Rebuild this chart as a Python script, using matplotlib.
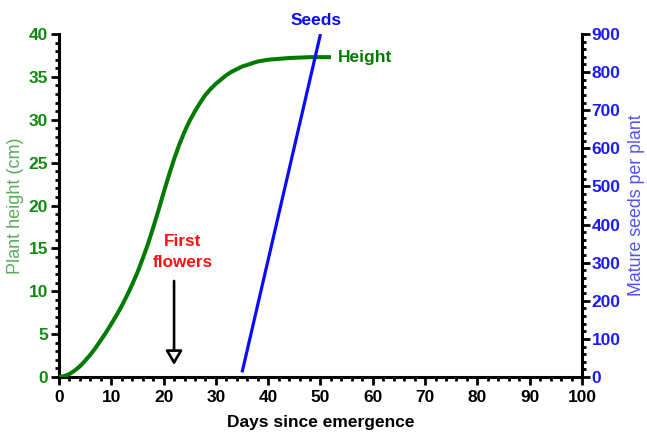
import matplotlib
matplotlib.use("Agg")
import matplotlib.pyplot as plt
from matplotlib.ticker import MultipleLocator

plt.rcParams['font.family'] = ['Liberation Sans', 'DejaVu Sans']

# Data
height_days = [0, 1, 2, 3, 4, 5, 6, 7, 8, 9, 10, 11, 12, 13, 14, 15, 16, 17, 18, 19, 20,
               21, 22, 23, 24, 25, 26, 27, 28, 29, 30, 31, 32, 33, 34, 35, 36, 37, 38, 39, 40,
               42, 44, 46, 48, 50, 52]
height_cm = [0, 0.1, 0.35, 0.75, 1.25, 1.9, 2.6, 3.4, 4.3, 5.2, 6.2, 7.2, 8.3, 9.5, 10.8, 12.2,
             13.8, 15.5, 17.4, 19.4, 21.5, 23.5, 25.4, 27.1, 28.6, 29.9, 31.0, 32.0, 32.9, 33.6,
             34.2, 34.7, 35.2, 35.6, 35.9, 36.2, 36.4, 36.6, 36.8, 36.9, 37.0, 37.1, 37.2, 37.25,
             37.3, 37.3, 37.3]
seed_days = [35, 50]
seeds = [12, 900]
first_flower_day = 22

x_ticks = list(range(0, 101, 10))
left_ticks = list(range(0, 41, 5))
right_ticks = list(range(0, 901, 100))

GREEN = '#007a00'
GREEN_TXT = '#0f8a0f'
GREEN_LBL = '#5cac5c'
BLUE = '#0a0aff'
BLUE_TXT = '#1a1aff'
BLUE_LBL = '#5050ff'

fig = plt.figure(figsize=(6.47, 4.32), dpi=100)
ax = fig.add_axes([0.0912, 0.1273, 0.8083, 0.794])
ax2 = ax.twinx()

ax.plot(height_days, height_cm, color=GREEN, lw=2.9, solid_capstyle='butt',
        solid_joinstyle='round', zorder=3)
ax2.plot(seed_days, seeds, color=BLUE, lw=2.3, solid_capstyle='butt', zorder=3)

ax.set_xlim(0, 100)
ax.set_ylim(0, 40)
ax2.set_ylim(0, 900)

ax.set_xticks(x_ticks)
ax.set_yticks(left_ticks)
ax2.set_yticks(right_ticks)
ax.xaxis.set_minor_locator(MultipleLocator(2))
ax.yaxis.set_minor_locator(MultipleLocator(1))
ax2.yaxis.set_minor_locator(MultipleLocator(20))

for a in (ax, ax2):
    for s in a.spines.values():
        s.set_linewidth(2.2)
    a.spines['top'].set_visible(False)
ax.spines['right'].set_visible(False)
ax2.spines['left'].set_visible(False)
ax2.spines['bottom'].set_visible(False)

ax.tick_params(axis='both', which='major', direction='out', length=6, width=2, pad=2)
ax.tick_params(axis='x', which='major', pad=3.5)
ax.tick_params(axis='both', which='minor', direction='out', length=3, width=2)
ax2.tick_params(axis='y', which='major', direction='out', length=6, width=2, pad=1)
ax2.tick_params(axis='y', which='minor', direction='out', length=3, width=2)

TICK_FS = 12.5
ax.set_xticklabels([str(v) for v in x_ticks], fontsize=TICK_FS, fontweight='bold', color='black')
ax.set_yticklabels([str(v) for v in left_ticks], fontsize=TICK_FS, fontweight='bold', color=GREEN_TXT)
ax2.set_yticklabels([str(v) for v in right_ticks], fontsize=TICK_FS, fontweight='bold', color=BLUE_TXT)

ax.set_xlabel('Days since emergence', fontsize=12.5, fontweight='bold', labelpad=7)
ax.set_ylabel('Plant height (cm)', fontsize=13, color=GREEN_LBL, labelpad=3)
ax2.set_ylabel('Mature seeds per plant', fontsize=12.8, color=BLUE_LBL, labelpad=5.5)

ax.text(53.3, 37.3, 'Height', color=GREEN, fontsize=12.5, fontweight='bold', ha='left', va='center')
ax2.text(49.2, 936, 'Seeds', color=BLUE, fontsize=12.5, fontweight='bold', ha='center', va='center',
         clip_on=False)
ax.text(23.7, 14.6, 'First\nflowers', color='#ff1010', fontsize=12.3, fontweight='bold',
        ha='center', va='center', linespacing=1.45)
ax.annotate('', xy=(first_flower_day, 1.4), xytext=(first_flower_day, 11.2),
            arrowprops=dict(arrowstyle='-|>,head_length=0.85,head_width=0.5', fc='white', ec='black',
                            lw=1.9, shrinkA=0, shrinkB=0))

fig.savefig('out.png', dpi=100)
